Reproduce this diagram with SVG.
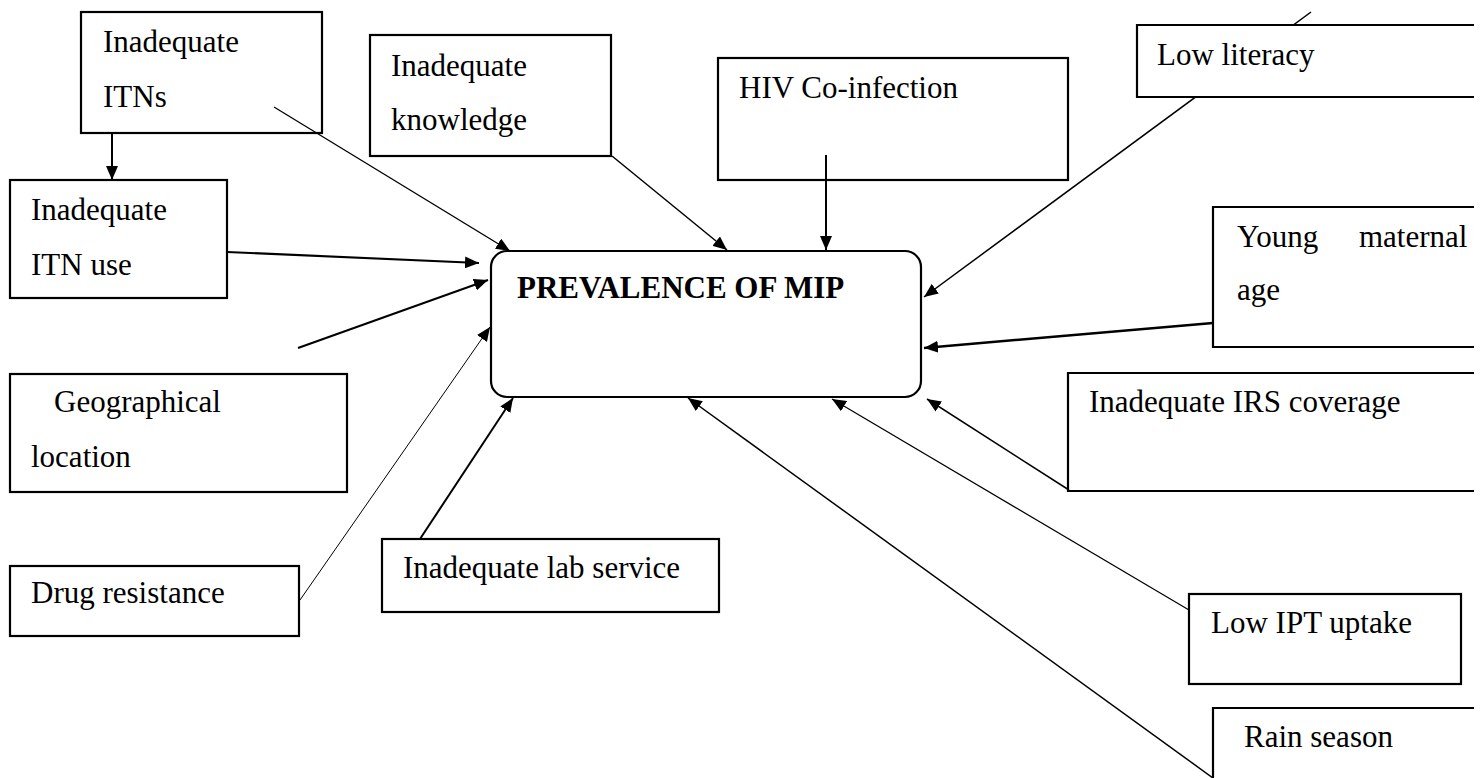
<svg xmlns="http://www.w3.org/2000/svg" width="1481" height="778" viewBox="0 0 1481 778">
<style>
.box{fill:none;stroke:#000;stroke-width:2.2}
.t{font-family:"Liberation Serif","Times New Roman",serif;font-size:31px;fill:#000}
.tb{font-family:"Liberation Serif","Times New Roman",serif;font-size:31px;font-weight:bold;fill:#000}
.c{fill:none;stroke:#000;marker-end:url(#ah)}
</style>
<defs>
<marker id="ah" viewBox="0 0 14 12" refX="14" refY="6" markerWidth="14" markerHeight="12" markerUnits="userSpaceOnUse" orient="auto">
<path d="M0,0 L14,6 L0,12 z" fill="#000"/>
</marker>
</defs>
<rect width="1481" height="778" fill="#fff"/>
<g id="connectors">
<line class="c" x1="112" y1="133" x2="112" y2="180" stroke-width="2"/>
<line class="c" x1="274" y1="107" x2="510" y2="251" stroke-width="1.3"/>
<line class="c" x1="227" y1="252" x2="479" y2="263" stroke-width="2.2"/>
<line class="c" x1="298" y1="348" x2="488" y2="280" stroke-width="2"/>
<line class="c" x1="300" y1="600" x2="490" y2="327" stroke-width="1"/>
<line class="c" x1="420" y1="539" x2="513" y2="398" stroke-width="2"/>
<line class="c" x1="612" y1="156" x2="727" y2="250" stroke-width="1.5"/>
<line class="c" x1="826" y1="155" x2="826" y2="250" stroke-width="2"/>
<line class="c" x1="1311" y1="12" x2="924" y2="297" stroke-width="1.5"/>
<line class="c" x1="1213" y1="323" x2="924" y2="348" stroke-width="2.5"/>
<line class="c" x1="1069" y1="490" x2="927" y2="399" stroke-width="1.5"/>
<line class="c" x1="1189" y1="610" x2="832" y2="399" stroke-width="1.2"/>
<line class="c" x1="1213" y1="778" x2="688" y2="398" stroke-width="1.5"/>
</g>
<g id="central">
<rect class="box" x="491" y="251" width="430" height="146" rx="16" ry="16"/>
<text class="tb" x="517" y="298">PREVALENCE OF MIP</text>
</g>
<g id="itns">
<rect class="box" x="81" y="12" width="241" height="121"/>
<text class="t" x="103" y="52">Inadequate</text>
<text class="t" x="103" y="107">ITNs</text>
</g>
<g id="itn-use">
<rect class="box" x="10" y="180" width="217" height="118"/>
<text class="t" x="31" y="220">Inadequate</text>
<text class="t" x="31" y="275">ITN use</text>
</g>
<g id="knowledge">
<rect class="box" x="370" y="35" width="241" height="121"/>
<text class="t" x="391" y="76">Inadequate</text>
<text class="t" x="391" y="130">knowledge</text>
</g>
<g id="hiv">
<rect class="box" x="718" y="58" width="350" height="122"/>
<text class="t" x="739" y="98">HIV Co-infection</text>
</g>
<g id="literacy">
<path d="M1474,25 H1137 V97 H1474" fill="#fff" stroke="#000" stroke-width="2.2"/>
<text class="t" x="1157" y="65">Low literacy</text>
</g>
<g id="maternal">
<path class="box" d="M1474,207 H1213 V347 H1474"/>
<text class="t" y="247"><tspan x="1237">Young</tspan><tspan x="1359">maternal</tspan></text>
<text class="t" x="1237" y="300">age</text>
</g>
<g id="geo">
<rect class="box" x="10" y="374" width="337" height="118"/>
<text class="t" x="54" y="412">Geographical</text>
<text class="t" x="31" y="467">location</text>
</g>
<g id="drug">
<rect class="box" x="10" y="566" width="289" height="70"/>
<text class="t" x="31" y="603">Drug resistance</text>
</g>
<g id="lab">
<rect class="box" x="382" y="539" width="337" height="73"/>
<text class="t" x="403" y="578">Inadequate lab service</text>
</g>
<g id="irs">
<path class="box" d="M1474,373 H1068 V491 H1474"/>
<text class="t" x="1089" y="412">Inadequate IRS coverage</text>
</g>
<g id="ipt">
<rect class="box" x="1189" y="594" width="272" height="90"/>
<text class="t" x="1211" y="633">Low IPT uptake</text>
</g>
<g id="rain">
<path class="box" d="M1474,708 H1213 V790"/>
<text class="t" x="1244" y="747">Rain season</text>
</g>
</svg>
